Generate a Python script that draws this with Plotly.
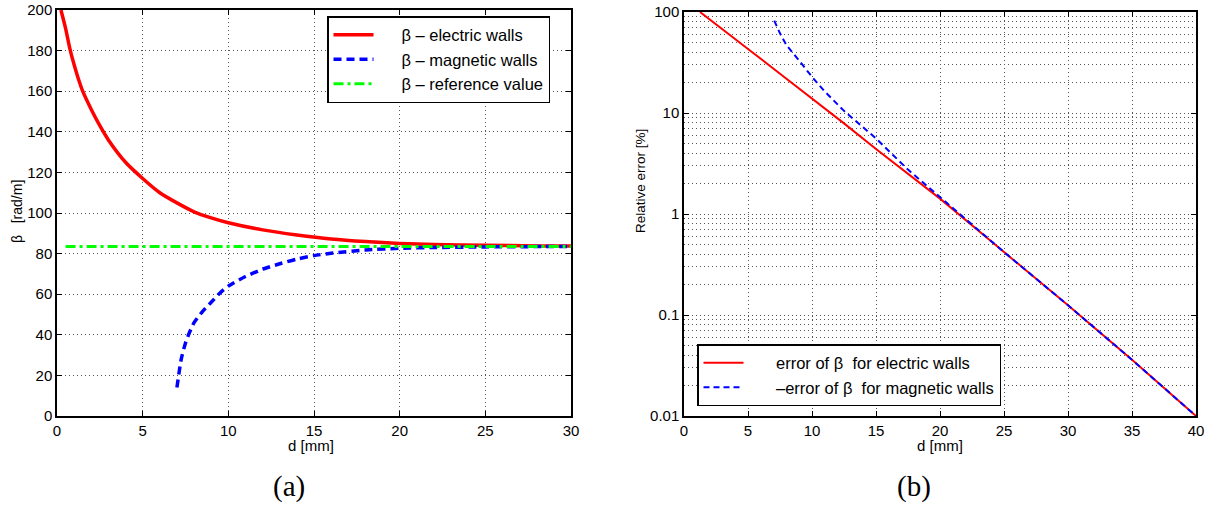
import plotly.graph_objects as go

# ---- data ----
d_elec = [0.23, 0.5, 0.75, 1, 1.25, 1.5, 2, 2.5, 3, 4, 5, 6, 7, 8, 9, 10, 12, 14, 16, 18, 20, 22, 25, 28, 30]
beta_elec = [200, 191, 181, 173, 166, 160, 151, 143, 136, 125, 117, 110, 105, 100.6, 97.6, 95.2, 91.7, 89.2, 87.2, 85.9, 85.0, 84.5, 84.1, 83.8, 83.7]

d_mag = [7.0, 7.25, 7.5, 7.75, 8, 8.5, 9, 9.5, 10, 11, 12, 13, 14, 15, 16, 18, 20, 22, 25, 28, 30]
beta_mag = [14, 28, 36, 41.5, 46, 51.5, 56, 60.5, 64, 68.7, 72.3, 75, 77.3, 79, 80.2, 81.8, 82.6, 83.0, 83.3, 83.45, 83.5]

d_ref = [0.5, 30]
beta_ref = [83.5, 83.5]

d_err_e = [1.25, 2.5, 5, 7.5, 10, 12.5, 15, 17.5, 20, 25, 30, 35, 40]
err_e = [100, 75, 43, 24.5, 14, 7.9, 4.4, 2.5, 1.42, 0.42, 0.125, 0.036, 0.01]

d_err_m = [7.05, 7.5, 8, 8.5, 9, 10, 11, 12.5, 15, 17.5, 20, 25, 30, 35, 40]
err_m = [82, 61.5, 47, 39.5, 33, 22.8, 16.3, 10.5, 5.6, 2.75, 1.48, 0.42, 0.125, 0.036, 0.01]

log_tickvals = [0.01, 0.1, 1, 10, 100]
log_ticktext = ["0.01", "0.1", "1", "10", "100"]

W, H = 1212, 508
FONT = "Liberation Sans, Arial, sans-serif"
SERIF = "Liberation Serif, DejaVu Serif, serif"
GRID = "#555555"
GDASH = "1px,3px"

fig = go.Figure()

fig.add_trace(go.Scatter(x=d_elec, y=beta_elec, mode="lines",
                         line=dict(color="#ff0000", width=3.5, shape="spline", smoothing=0.6),
                         name="     β – electric walls", xaxis="x", yaxis="y", legend="legend"))
fig.add_trace(go.Scatter(x=d_mag, y=beta_mag, mode="lines",
                         line=dict(color="#0000ff", width=3.5, dash="8px,5px", shape="spline", smoothing=0.6),
                         name="     β – magnetic walls", xaxis="x", yaxis="y", legend="legend"))
fig.add_trace(go.Scatter(x=d_ref, y=beta_ref, mode="lines", line=dict(color="#00ff00", width=3, dash="10px,4px,3px,4px"),
                         name="     β – reference value", xaxis="x", yaxis="y", legend="legend"))

fig.add_trace(go.Scatter(x=d_err_e, y=err_e, mode="lines", line=dict(color="#ff0000", width=2),
                         name="      error of β  for electric walls", xaxis="x2", yaxis="y2", legend="legend2"))
fig.add_trace(go.Scatter(x=d_err_m, y=err_m, mode="lines", line=dict(color="#0000ff", width=2, dash="6px,4px"),
                         name="      –error of β  for magnetic walls", xaxis="x2", yaxis="y2", legend="legend2"))

axis_common = dict(showline=True, linecolor="black", linewidth=1.5, mirror="ticks", ticks="inside", ticklen=5,
                   tickcolor="black", showgrid=True, gridcolor=GRID, griddash=GDASH, gridwidth=1,
                   zeroline=False, automargin=False, tickfont=dict(family=FONT, size=15, color="black"))

fig.update_layout(
    width=W, height=H, margin=dict(l=0, r=0, t=0, b=0, autoexpand=False),
    paper_bgcolor="white", plot_bgcolor="white",
    font=dict(family=FONT, size=15, color="black"),
    xaxis=dict(domain=[57/W, 571/W], range=[0, 30], dtick=5, anchor="y", **axis_common),
    yaxis=dict(domain=[(H-416)/H, (H-10)/H], range=[0, 200], dtick=20, anchor="x", **axis_common),
    xaxis2=dict(domain=[684/W, 1196/W], range=[0, 40], dtick=5, anchor="y2", **axis_common),
    yaxis2=dict(domain=[(H-416)/H, (H-12)/H], type="log", range=[-2, 2], anchor="x2",
                tickvals=log_tickvals, ticktext=log_ticktext,
                minor=dict(dtick="D1", showgrid=True, gridcolor=GRID, griddash=GDASH, gridwidth=1, ticks=""),
                **axis_common),
    legend=dict(x=327/W, y=1-16/H, xanchor="left", yanchor="top", bgcolor="white",
                bordercolor="black", borderwidth=1.5, font=dict(family=FONT, size=16.5), itemwidth=40,
                tracegroupgap=0),
    legend2=dict(x=697/W, y=1-344/H, xanchor="left", yanchor="top", bgcolor="white",
                 bordercolor="black", borderwidth=1.5, font=dict(family=FONT, size=16.5), itemwidth=40),
    showlegend=True,
)

def label(text, x, y, size, family=FONT, angle=0):
    return dict(text=text, x=x/W, y=1-y/H, xref="paper", yref="paper", showarrow=False,
                xanchor="center", yanchor="middle", textangle=angle,
                font=dict(family=family, size=size, color="black"))

ann = [
    label("d [mm]", 311, 445, 15),
    label("d [mm]", 940, 445, 15),
    label("β   [rad/m]", 17, 212, 14, angle=-90),
    label("Relative error [%]", 640, 181, 13.5, angle=-90),
    label("(a)", 289, 486, 29, family=SERIF),
    label("(b)", 914, 486, 29, family=SERIF),
]
fig.update_layout(annotations=ann)

fig.write_html("out.html")
